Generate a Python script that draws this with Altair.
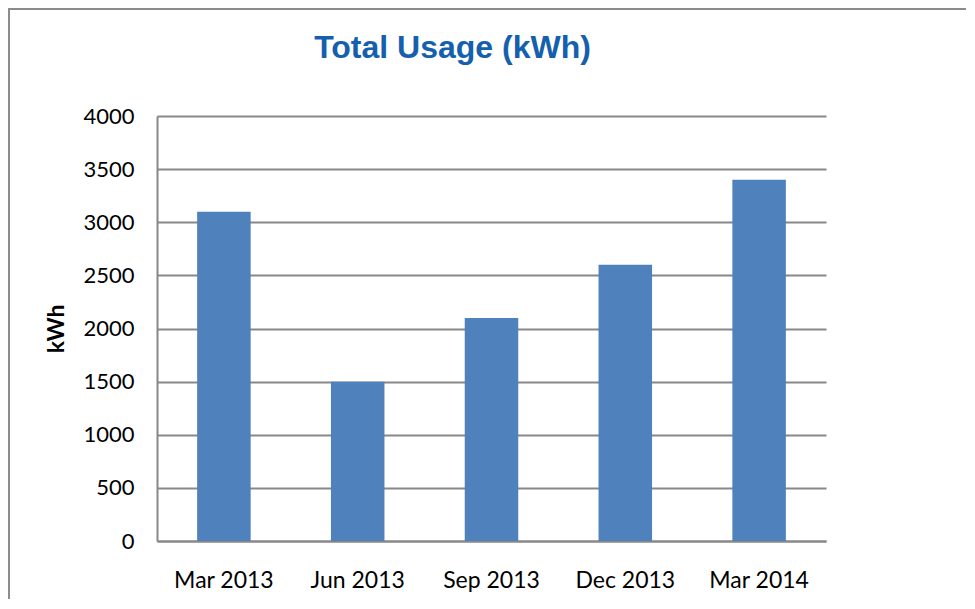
import altair as alt
import pandas as pd

periods = ["Mar 2013", "Jun 2013", "Sep 2013", "Dec 2013", "Mar 2014"]
usage = [3100, 1500, 2100, 2600, 3400]

df = pd.DataFrame({"period": periods, "kWh": usage})

GRID = "#888888"

bars = alt.Chart(df).mark_bar(color="#4F81BD").encode(
    x=alt.X("period:N", sort=periods, title=None,
            scale=alt.Scale(paddingInner=0.6, paddingOuter=0.3),
            axis=alt.Axis(labelAngle=0, ticks=False, labelPadding=28, labelFont="Lato",
                          labelFontSize=23, labelColor="#000000", domainColor=GRID,
                          domainWidth=2, grid=False)),
    y=alt.Y("kWh:Q", title="kWh",
            scale=alt.Scale(domain=[0, 4000], nice=False),
            axis=alt.Axis(values=[0, 500, 1000, 1500, 2000, 2500, 3000, 3500, 4000],
                          format="d",
                          ticks=False, labelPadding=23, labelFont="Lato", labelFontSize=22,
                          labelColor="#000000", domainColor=GRID, domainWidth=2,
                          gridColor=GRID, gridWidth=2, titleFont="Lato",
                          titleFontSize=23, titleFontWeight="bold", titleColor="#000000",
                          titlePadding=14)),
)

frame = alt.Chart(df).mark_rect(fill=None, stroke="#8c8c8c", strokeWidth=2).encode(
    x=alt.value(-148), x2=alt.value(1200), y=alt.value(-107), y2=alt.value(1200)
)

chart = alt.layer(frame, bars).properties(
    width=669, height=425,
    padding={"left": 149, "top": 108, "right": 140, "bottom": 58},
    autosize=alt.AutoSizeParams(type="none"),
    title=alt.TitleParams("Total Usage (kWh)", font="Liberation Sans", fontSize=32,
                          fontWeight="bold", color="#1560AD", anchor="middle",
                          dx=-39, offset=-57),
).configure_view(stroke=None)

chart.save("out.html", embed_options={"renderer": "svg", "actions": False})
